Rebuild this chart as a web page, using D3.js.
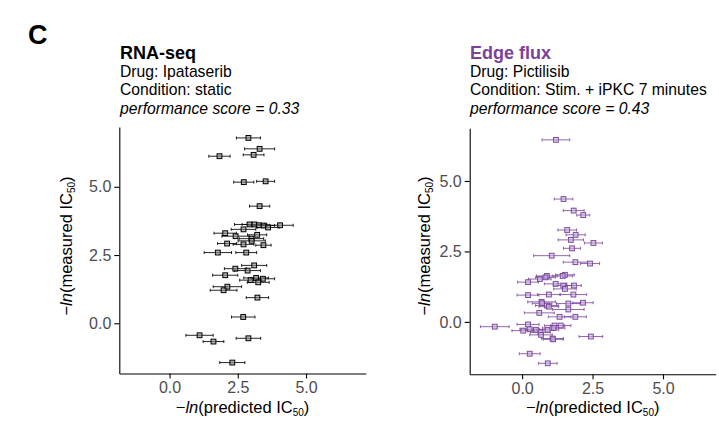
<!DOCTYPE html>
<html><head><meta charset="utf-8">
<script src="https://cdn.jsdelivr.net/npm/d3@7"></script>
<style>body{margin:0;background:#fff}svg{display:block;font-family:"Liberation Sans",Arial,sans-serif}</style>
</head><body><svg id="c" width="719" height="423"></svg>
<script>
// Left panel: RNA-seq, Ipatasertib static
const rnaX = [2.89,3.30,1.83,3.08,2.72,3.52,3.30,2.93,3.11,3.27,3.45,4.05,3.61,2.71,2.04,3.21,2.42,3.00,3.01,2.11,2.71,3.44,1.77,2.81,
  3.10,2.41,2.86,2.04,3.17,3.42,3.25,2.97,2.12,1.98,3.22,2.70,1.10,2.89,1.61,2.30];
const rnaY = [6.79,6.39,6.12,6.17,5.17,5.20,4.29,3.62,3.62,3.59,3.58,3.59,3.51,3.44,3.30,3.24,3.19,3.10,3.02,2.92,2.89,2.86,2.59,2.59,
  2.12,2.00,1.93,1.76,1.66,1.63,1.50,1.58,1.34,1.21,0.94,0.23,-0.44,-0.55,-0.67,-1.44];
const rnaErr = [0.44,0.55,0.39,0.38,0.37,0.33,0.37,0.55,0.45,0.40,0.40,0.48,0.40,0.45,0.41,0.35,0.50,0.45,0.50,0.35,0.38,0.28,0.50,0.38,
  0.46,0.40,0.47,0.46,0.45,0.43,0.40,0.40,0.52,0.49,0.41,0.43,0.50,0.45,0.38,0.46];
// Right panel: Edge flux, Pictilisib Stim. + iPKC 7 minutes
const fluxX = [1.20,1.47,1.83,2.17,1.60,1.90,1.73,2.53,1.77,1.05,1.89,2.41,
  1.52,1.44,0.88,0.83,0.63,0.21,1.19,1.46,1.84,1.52,0.21,0.95,1.82,0.69,0.71,0.88,0.95,1.64,2.16,1.64,0.61,1.33,1.89,
  -0.97,0.21,1.15,1.37,0.04,0.27,0.49,0.90,1.12,0.65,0.67,1.08,1.10,2.44,0.27,0.91];
const fluxY = [6.46,4.36,3.95,3.79,3.26,3.09,2.91,2.80,2.61,2.35,2.12,2.07,
  1.67,1.63,1.63,1.58,1.52,1.41,1.35,1.29,1.29,1.17,0.95,0.97,0.97,0.71,0.66,0.58,0.54,0.65,0.68,0.44,0.32,0.18,0.18,
  -0.17,-0.09,-0.13,-0.13,-0.31,-0.26,-0.28,-0.28,-0.22,-0.37,-0.46,-0.59,-0.62,-0.52,-1.13,-1.47];
const fluxErr = [0.49,0.33,0.37,0.23,0.33,0.34,0.45,0.32,0.30,0.64,0.43,0.34,
  0.33,0.35,0.37,0.35,0.40,0.37,0.40,0.35,0.26,0.40,0.39,0.40,0.47,0.49,0.35,0.40,0.35,0.42,0.36,0.56,0.53,0.40,0.39,
  0.51,0.39,0.35,0.36,0.40,0.35,0.35,0.40,0.40,0.35,0.40,0.39,0.35,0.42,0.37,0.33];
const tickVals = [0, 2.5, 5.0];

const panels = [
  {x0:119.3, y0:127, size:246.5, dom:[-1.84,7.19], xs:rnaX, ys:rnaY, es:rnaErr,
   title:"RNA-seq", tcol:"#000", lines:["Drug: Ipataserib","Condition: static"], score:"performance score = 0.33",
   tx:120, col:"#000", fill:"#8c8c8c", ylab:71.5},
  {x0:469.7, y0:128.3, size:246, dom:[-1.86,6.87], xs:fluxX, ys:fluxY, es:fluxErr,
   title:"Edge flux", tcol:"#7b4199", lines:["Drug: Pictilisib","Condition: Stim. + iPKC 7 minutes"], score:"performance score = 0.43",
   tx:470, col:"#7f4ca0", fill:"#c7b0da", ylab:430}
];

const svg = d3.select("#c");
svg.append("text").attr("x",28).attr("y",44).attr("font-size",27).attr("font-weight","bold").text("C");

panels.forEach(p=>{
  const g = svg.append("g");
  g.append("text").attr("x",p.tx).attr("y",58.5).attr("font-size",18).attr("font-weight","bold").attr("fill",p.tcol).text(p.title);
  g.append("text").attr("x",p.tx).attr("y",76.8).attr("font-size",15.7).text(p.lines[0]);
  g.append("text").attr("x",p.tx).attr("y",95.2).attr("font-size",15.7).text(p.lines[1]);
  g.append("text").attr("x",p.tx).attr("y",114).attr("font-size",15.7).attr("font-style","italic").text(p.score);

  const x = d3.scaleLinear().domain(p.dom).range([p.x0, p.x0+p.size]);
  const y = d3.scaleLinear().domain(p.dom).range([p.y0+p.size, p.y0]);

  const ax = g.append("g").attr("transform",`translate(0,${p.y0+p.size})`)
    .call(d3.axisBottom(x).tickValues(tickVals).tickFormat(d3.format(".1f")).tickSize(5).tickSizeOuter(0).tickPadding(3));
  const ay = g.append("g").attr("transform",`translate(${p.x0},0)`)
    .call(d3.axisLeft(y).tickValues(tickVals).tickFormat(d3.format(".1f")).tickSize(5).tickSizeOuter(0).tickPadding(3));
  [ax,ay].forEach(a=>{
    a.select(".domain").attr("stroke","#000").attr("stroke-width",1.1);
    a.selectAll(".tick line").attr("stroke","#000").attr("stroke-width",1.1);
    a.selectAll(".tick text").attr("font-size",16).attr("fill","#4d4d4d").attr("font-family","Liberation Sans, Arial, sans-serif");
  });

  // axis titles
  const xt = g.append("text").attr("x",p.x0+p.size/2).attr("y",413).attr("text-anchor","middle").attr("font-size",16.5).attr("fill","#000");
  xt.append("tspan").text("\u2212");
  xt.append("tspan").attr("font-style","italic").text("ln");
  xt.append("tspan").text("(predicted IC");
  xt.append("tspan").attr("font-size",10).attr("dy",3).text("50");
  xt.append("tspan").attr("dy",-3).text(")");
  const yt = g.append("text").attr("transform",`translate(${p.ylab},246) rotate(-90)`).attr("text-anchor","middle").attr("font-size",16.5).attr("fill","#000");
  yt.append("tspan").text("\u2212");
  yt.append("tspan").attr("font-style","italic").text("ln");
  yt.append("tspan").text("(measured IC");
  yt.append("tspan").attr("font-size",10).attr("dy",3).text("50");
  yt.append("tspan").attr("dy",-3).text(")");

  const data = p.xs.map((v,i)=>({x:v,y:p.ys[i],e:p.es[i]}));
  const eb = g.append("g").attr("stroke",p.col).attr("stroke-width",1).attr("stroke-opacity",0.85);
  data.forEach(d=>{
    const yy = y(d.y), xl = x(d.x-d.e), xr = x(d.x+d.e);
    eb.append("line").attr("x1",xl).attr("x2",xr).attr("y1",yy).attr("y2",yy);
    eb.append("line").attr("x1",xl).attr("x2",xl).attr("y1",yy-1.5).attr("y2",yy+1.5);
    eb.append("line").attr("x1",xr).attr("x2",xr).attr("y1",yy-1.5).attr("y2",yy+1.5);
  });
  g.append("g").selectAll("rect").data(data).join("rect")
    .attr("x",d=>x(d.x)-2.4).attr("y",d=>y(d.y)-2.4).attr("width",4.8).attr("height",4.8)
    .attr("fill",p.fill).attr("fill-opacity",0.6).attr("stroke",p.col).attr("stroke-width",1);
});
</script></body></html>
